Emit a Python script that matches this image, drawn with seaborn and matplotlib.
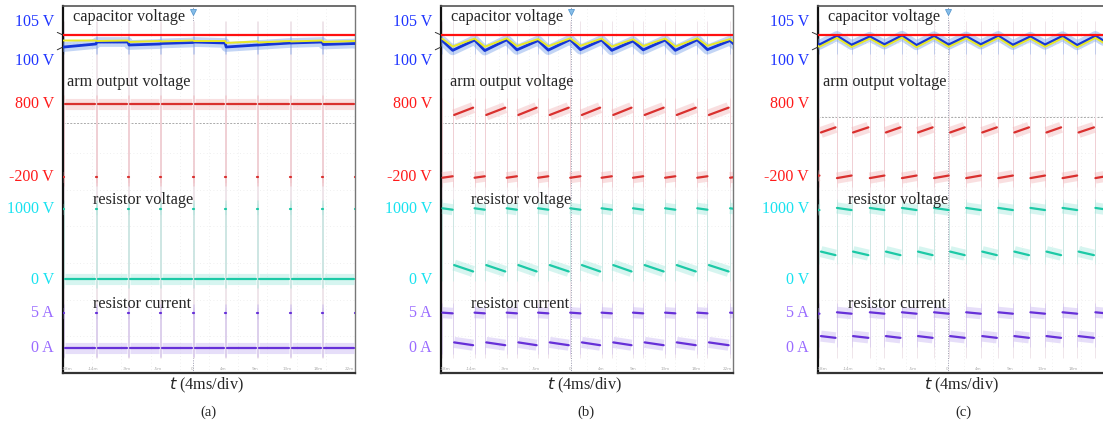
import numpy as np
import pandas as pd
import seaborn as sns
import matplotlib.pyplot as plt

# --- Layout (figure pixels, y measured from the top) ---
W, H = 1103, 426
PANEL_LEFT = [63, 441, 818]
PANEL_W = 292
PANEL_TOP, PANEL_BOTTOM = 6, 373
DIV_PX = (PANEL_BOTTOM - PANEL_TOP) / 10

# --- Time base: 4 ms/div, 10 div ---
T_SPAN = 40.0
TRIGGER_MS = 17.8

# --- Channel scaling: (value, screen row) at two reference points ---
CH_CAP = (100, 47, 105, 35)
CH_ARM = (-200, 177, 800, 104)
CH_RES = (0, 280, 1000, 209)
CH_CUR = (0, 348, 5, 313)

# --- Data read from the captures ---
panel_tags = ['(a)', '(b)', '(c)']

# start of each bypass interval (resistor current high), ms
bypass_a = [0.0, 4.5, 8.9, 13.3, 17.8, 22.2, 26.6, 31.1, 35.5, 40.0]
bypass_b = [0.2, 4.6, 9.0, 13.3, 17.7, 22.0, 26.3, 30.7, 35.1, 39.6]
bypass_c = [-1.8, 2.6, 7.1, 11.5, 15.9, 20.3, 24.7, 29.1, 33.5, 38.0]
bypass_len = [0.15, 1.4, 2.0]

# arm output voltage, V (segment start, segment end)
arm_on = [(800, 800), (650, 750), (410, 480)]
arm_byp = [(-200, -200), (-210, -190), (-215, -180)]
# resistor voltage, V
res_on = [(10, 10), (210, 120), (400, 350)]
res_byp = [(1000, 1000), (1010, 990), (1015, 985)]
# resistor current, A
cur_on = [(0.0, 0.0), (0.8, 0.4), (1.7, 1.45)]
cur_byp = [(5.0, 5.0), (5.05, 4.95), (5.1, 4.9)]

# capacitor voltage, V: just before / just after each bypass interval
cap_blue_pre = [
    [100.0, 101.25, 102.08, 101.25, 101.88, 101.67, 100.83, 101.67, 102.08, 101.46],
    [102.6, 102.9, 103.0, 102.7, 103.1, 102.9, 102.5, 102.9, 103.0, 102.7],
    [104.4, 104.6, 104.3, 104.7, 104.5, 104.4, 104.6, 104.3, 104.5, 104.6],
]
cap_blue_post = [
    [100.0, 102.08, 100.83, 101.46, 102.08, 100.0, 100.83, 101.67, 101.04, 101.25],
    [98.6, 98.5, 98.8, 98.7, 98.9, 98.6, 98.8, 98.6, 98.9, 98.7],
    [100.9, 100.8, 101.0, 100.7, 100.9, 101.0, 100.8, 100.9, 100.7, 100.9],
]
cap_yel_pre = [
    [102.7, 102.7, 102.7, 102.5, 102.7, 102.5, 102.3, 102.5, 102.7, 102.5],
    [103.4, 103.5, 103.6, 103.3, 103.6, 103.5, 103.2, 103.5, 103.6, 103.3],
    [103.6, 103.8, 103.5, 103.9, 103.7, 103.6, 103.8, 103.5, 103.7, 103.8],
]
cap_yel_post = [
    [102.7, 102.5, 102.1, 102.3, 102.5, 101.7, 101.9, 102.3, 102.1, 102.1],
    [100.2, 100.1, 100.4, 100.3, 100.5, 100.2, 100.4, 100.2, 100.5, 100.3],
    [100.1, 100.0, 100.2, 99.9, 100.1, 100.2, 100.0, 100.1, 99.9, 100.1],
]
cap_ref_v = 105
arm_marker_v = [535, 535, 620]

scope_tick_ms = [0.55, 4.1, 8.8, 13.0, 17.7, 21.9, 26.3, 30.7, 34.9, 39.3]
scope_tick_txt = ['-18m', '-14m', '-9m', '-5m', '0', '4m', '9m', '13m', '18m', '22m']

# --- Colours ---
C_BLUE, C_BLUE_FZ, C_YEL = '#1536d6', '#7aa3ea', '#e9e825'
C_ARM, C_ARM_FZ = '#d9302e', '#f2b0b3'
C_RES, C_RES_FZ = '#1cc9a6', '#9ae8da'
C_CUR, C_CUR_FZ = '#6630d8', '#c2aef0'
L_BLUE, L_RED, L_CYAN, L_PURP = '#1f35ff', '#ff1a1a', '#18e2f0', '#9a6cff'


def to_div(v, ch):
    v0, p0, v1, p1 = ch
    px = p0 + (np.asarray(v, dtype=float) - v0) * (p1 - p0) / (v1 - v0)
    return (PANEL_BOTTOM - px) / DIV_PX


def step_segments(starts, width, on, byp, ch, gap):
    rows = []
    period = np.mean(np.diff(starts))
    nxt = list(starts[1:]) + [starts[-1] + period]
    for i, s in enumerate(starts):
        e = s + width
        rows.append((f'b{i}', s, byp[0]))
        rows.append((f'b{i}', e, byp[1]))
        rows.append((f'n{i}', e + gap, on[0]))
        rows.append((f'n{i}', nxt[i] - gap, on[1]))
    df = pd.DataFrame(rows, columns=['seg', 't', 'v'])
    df['pos'] = to_div(df['v'], ch)
    return df


sns.set_theme(style='white')
plt.rcParams['font.family'] = ['Liberation Serif', 'DejaVu Serif']

fig = plt.figure(figsize=(W / 100, H / 100), dpi=100)
bypass_all = [bypass_a, bypass_b, bypass_c]


def fx(px):
    return px / W


def fy(py):
    return 1 - py / H


for p in range(3):
    L = PANEL_LEFT[p]
    ax = fig.add_axes([fx(L), fy(PANEL_BOTTOM), PANEL_W / W, (PANEL_BOTTOM - PANEL_TOP) / H])
    ax.set_xlim(0, T_SPAN)
    ax.set_ylim(0, 10)
    ax.set_xticks([])
    ax.set_yticks([])
    for side, col, lw in [('left', '#111111', 1.6), ('bottom', '#333333', 1.6),
                          ('top', '#555555', 1.2), ('right', '#777777', 1.0)]:
        ax.spines[side].set_color(col)
        ax.spines[side].set_linewidth(lw)

    # faint scope graticule
    for k in range(1, 10):
        ax.axvline(k * 4, color='#ebebeb', lw=0.6, ls=(0, (1, 3)), zorder=0)
        ax.axhline(k, color='#ebebeb', lw=0.6, ls=(0, (1, 3)), zorder=0)
    ax.axvline(TRIGGER_MS, color='#9a9aae', lw=0.7, ls=(0, (1, 1.5)), zorder=1)
    ax.axhline(float(to_div(arm_marker_v[p], CH_ARM)), color='#aaaaaa', lw=0.7,
               ls=(0, (2, 1.5)), zorder=1)
    ax.plot([TRIGGER_MS], [9.85], marker='v', ms=5, color='#86bde8', mec='#5a9ad0',
            mew=0.6, clip_on=False, zorder=6)

    starts = np.array(bypass_all[p])
    w = bypass_len[p]
    gap = 0.1 if p == 0 else 0.2

    # transition edges, faint full-height streaks
    edges = np.concatenate([starts, starts + w])
    ax.vlines(edges, 0.4, 9.6, color='#efe5ea', lw=0.7, zorder=1)

    chans = [
        (CH_ARM, arm_on[p], arm_byp[p], C_ARM, C_ARM_FZ),
        (CH_RES, res_on[p], res_byp[p], C_RES, C_RES_FZ),
        (CH_CUR, cur_on[p], cur_byp[p], C_CUR, C_CUR_FZ),
    ]
    for ch, on, byp, col, fz in chans:
        lo = float(to_div(min(on + byp), ch))
        hi = float(to_div(max(on + byp), ch))
        ax.vlines(edges, lo - 0.25, hi + 0.25, color=fz, lw=0.6, alpha=0.45, zorder=2)
        df = step_segments(starts, w, on, byp, ch, gap)
        sns.lineplot(data=df, x='t', y='pos', units='seg', estimator=None, sort=False,
                     color=fz, lw=8, alpha=0.4, ax=ax, legend=False, zorder=3,
                     solid_capstyle='butt')
        sns.lineplot(data=df, x='t', y='pos', units='seg', estimator=None, sort=False,
                     color=col, lw=1.6, ax=ax, legend=False, zorder=4)

    # capacitor voltages
    t_pts = np.ravel(np.column_stack([starts, starts + w]))
    for pre, post, col, lw, a, z in [
        (cap_blue_pre[p], cap_blue_post[p], C_BLUE_FZ, 7, 0.45, 3),
        (cap_blue_pre[p], cap_blue_post[p], C_BLUE, 2.0, 1.0, 4),
        (cap_yel_pre[p], cap_yel_post[p], C_YEL, 1.4, 1.0, 5),
    ]:
        v_pts = np.ravel(np.column_stack([pre, post]))
        cdf = pd.DataFrame({'t': t_pts, 'pos': to_div(v_pts, CH_CAP)})
        sns.lineplot(data=cdf, x='t', y='pos', estimator=None, sort=False, color=col,
                     lw=lw, alpha=a, ax=ax, legend=False, zorder=z)
    ax.vlines(edges, to_div(97.0, CH_CAP), to_div(104.5, CH_CAP), color=C_BLUE_FZ,
              lw=0.6, alpha=0.45, zorder=2)
    ax.axhline(float(to_div(cap_ref_v, CH_CAP)), color='#ff1010', lw=1.6, zorder=6)
    ax.set_xlabel('')
    ax.set_ylabel('')

    # tiny scope time readout along the bottom
    for tm, tx in zip(scope_tick_ms, scope_tick_txt):
        if L + tm / T_SPAN * PANEL_W > W - 12:
            continue
        ax.text(tm, 0.12, tx, fontsize=3, color='#aaaaaa', ha='center', va='center',
                family='DejaVu Sans')

    # channel markers on the left
    for txt, ch, v, col in [('800 V', CH_ARM, 800, L_RED), ('-200 V', CH_ARM, -200, L_RED),
                            ('1000 V', CH_RES, 1000, L_CYAN), ('0 V', CH_RES, 0, L_CYAN),
                            ('5 A', CH_CUR, 5, L_PURP), ('0 A', CH_CUR, 0, L_PURP)]:
        ax.annotate(txt, xy=(0, float(to_div(v, ch))), xycoords=('axes fraction', 'data'),
                    xytext=(-9, 0), textcoords='offset pixels', ha='right', va='center',
                    fontsize=11.5, color=col, annotation_clip=False)
    for txt, v, dy in [('105 V', 105, 13), ('100 V', 100, -14)]:
        ax.annotate(txt, xy=(0, float(to_div(v, CH_CAP))), xycoords=('axes fraction', 'data'),
                    xytext=(-9, dy), textcoords='offset pixels', ha='right', va='center',
                    fontsize=11.5, color=L_BLUE, annotation_clip=False,
                    arrowprops=dict(arrowstyle='-', color='#333333', lw=0.7,
                                    shrinkA=0, shrinkB=0))

    arm_dx = [4, 9, 5][p]
    fig.text(fx(L + 10), fy(17), 'capacitor voltage', fontsize=11.7, va='center', zorder=10)
    fig.text(fx(L + arm_dx), fy(82), 'arm output voltage', fontsize=11.7, va='center', zorder=10)
    fig.text(fx(L + 30), fy(200), 'resistor voltage', fontsize=11.7, va='center', zorder=10)
    fig.text(fx(L + 30), fy(304), 'resistor current', fontsize=11.7, va='center', zorder=10)
    fig.text(fx(L + 143), fy(385), r'$\it{t}$ (4ms/div)', fontsize=11.7, ha='center', va='center')
    fig.text(fx(L + 145), fy(412), panel_tags[p], fontsize=10.5, ha='center', va='center')

fig.savefig('out.png', dpi=100, facecolor='white')
